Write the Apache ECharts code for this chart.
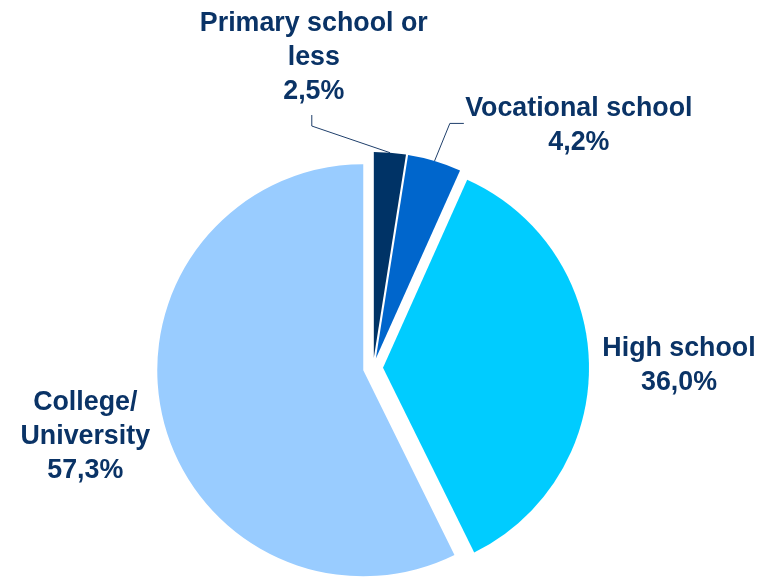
<!DOCTYPE html>
<html><head><meta charset="utf-8">
<script src="https://cdn.jsdelivr.net/npm/echarts@6/dist/echarts.min.js"></script>
<style>html,body{margin:0;padding:0;background:#fff}#c{width:771px;height:577px}</style>
</head><body><div id="c"></div>
<script>
const categories = ['Primary school or\nless', 'Vocational school', 'High school', 'College/\nUniversity'];
const values = [2.5, 4.2, 36.0, 57.3];
const valueLabels = ['2,5%', '4,2%', '36,0%', '57,3%'];
const colors = ['#003366', '#0066CC', '#00CCFF', '#99CCFF'];
const labelCenters = [[313, 68], [576, 135], [669, 366], [95, 434]];
const showLines = [true, true, false, false];

const chart = echarts.init(document.getElementById('c'), null, {renderer: 'canvas'});
chart.setOption({
  animation: false,
  series: [{
    type: 'pie',
    center: [373, 368],
    radius: 206,
    startAngle: 90,
    clockwise: true,
    selectedMode: 'multiple',
    selectedOffset: 10,
    avoidLabelOverlap: false,
    emphasis: {disabled: true},
    data: categories.map((c, i) => ({
      name: c,
      value: values[i],
      selected: true,
      itemStyle: {color: colors[i]},
      select: {itemStyle: {color: colors[i]}},
      labelLine: {show: showLines[i]}
    })),
    label: {
      show: true,
      position: 'outside',
      formatter: p => p.name + '\n' + valueLabels[p.dataIndex],
      fontFamily: 'Liberation Sans, Arial, sans-serif',
      fontWeight: 'bold',
      fontSize: 26.8,
      lineHeight: 34,
      color: '#0a3366'
    },
    labelLine: {show: true, lineStyle: {color: '#1f3f6b', width: 1}},
    labelLayout: function (params) {
      const i = params.dataIndex;
      const [cx, cy] = labelCenters[i];
      const r = params.labelRect;
      let anchor = r.x + r.width / 2;
      if (params.align === 'left') anchor = r.x;
      else if (params.align === 'right') anchor = r.x + r.width;
      const res = {
        align: 'center',
        dx: cx - anchor,
        dy: cy - (r.y + r.height / 2)
      };
      const lp = params.labelLinePoints;
      if (showLines[i] && lp && lp.length) {
        const p0 = lp[0];
        if (i === 0) {
          const bx = cx - 2, by = cy + 57;
          res.labelLinePoints = [p0, [bx, by + 11], [bx, by]];
        } else {
          const lx = cx - 115, ly = cy - 2;
          res.labelLinePoints = [p0, [lx - 14, ly], [lx, ly]];
        }
      }
      return res;
    }
  }]
});
</script>
</body></html>
